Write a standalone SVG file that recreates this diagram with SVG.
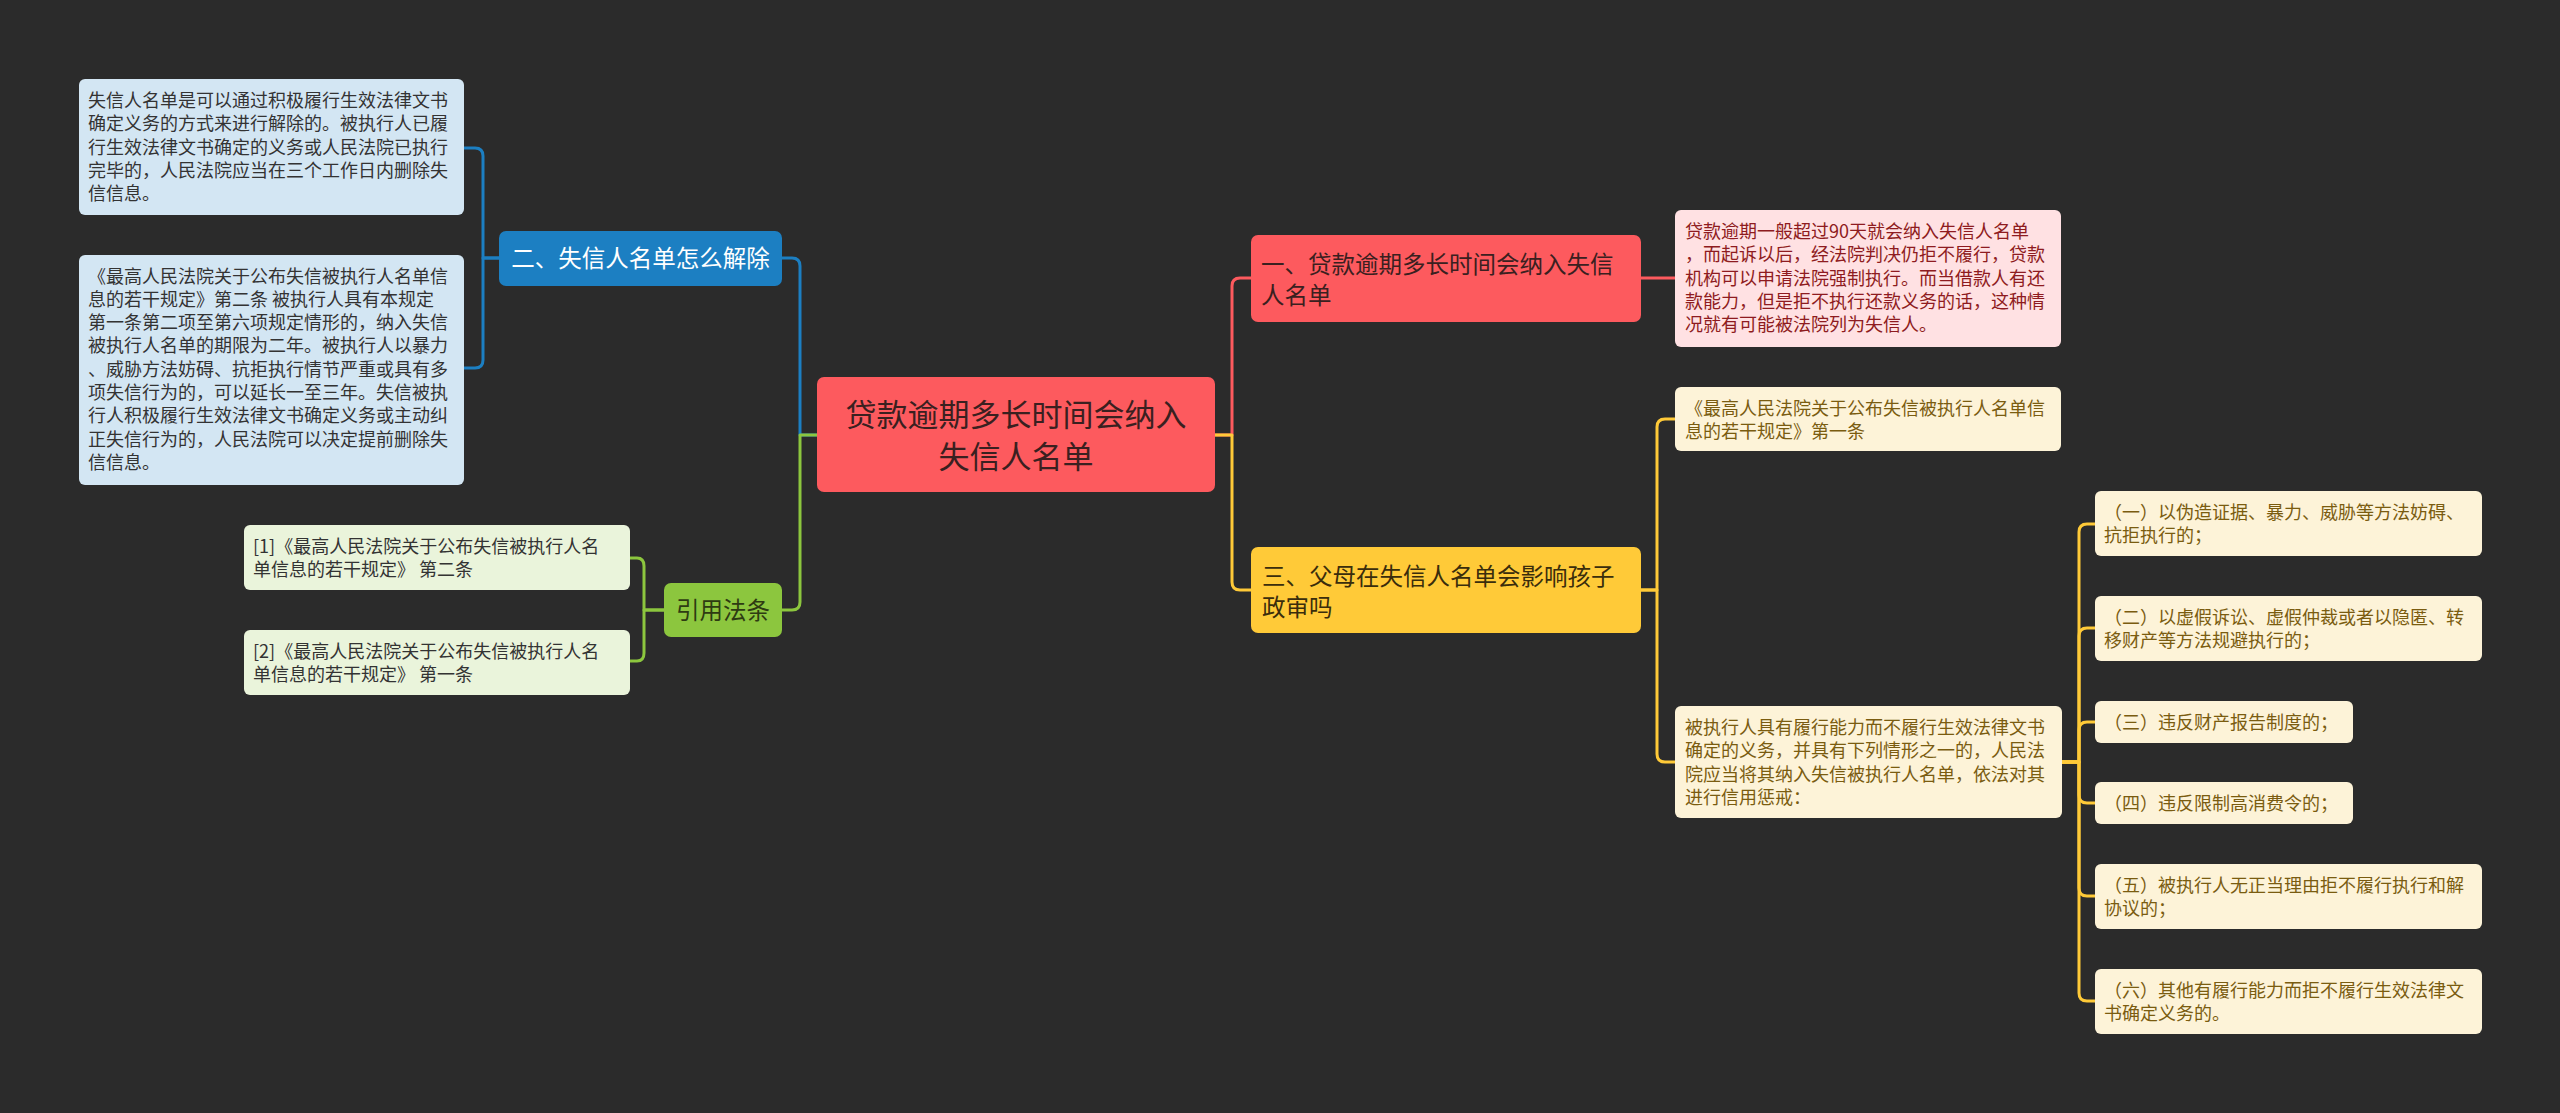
<svg xmlns="http://www.w3.org/2000/svg" width="2560" height="1113" viewBox="0 0 2560 1113">
<style>
text{font-family:"Noto Sans CJK SC","Liberation Sans",sans-serif;dominant-baseline:central}
.conn{fill:none;stroke-width:3;stroke-linecap:round;stroke-linejoin:round}
.cb{stroke:#1C7FC2}.cg{stroke:#8CC63E}.cr{stroke:#FD5A5E}.cy{stroke:#FFCA38}
.s{font-size:18px}
.l1{font-size:23.5px}
.root{font-size:31px;fill:#3a2020}
.bluebox{fill:#D3E6F3}.bluet{fill:#333333}
.greenbox{fill:#EAF4DB}.greent{fill:#333333}
.pinkbox{fill:#FFE1E3}.pinkt{fill:#8E1B20}
.creambox{fill:#FDF3D8}.creamt{fill:#7A5C10}
</style>
<rect x="0" y="0" width="2560" height="1113" fill="#2B2B2B"/>

<g id="connectors">
  <path class="conn cb" d="M817,435 H800 V266 Q800,258 792,258 H782"/>
  <path class="conn cg" d="M817,435 H800 V602 Q800,610 792,610 H782"/>
  <path class="conn cb" d="M499,258 H483 V156 Q483,148 475,148 H464"/>
  <path class="conn cb" d="M499,258 H483 V360 Q483,368 475,368 H464"/>
  <path class="conn cg" d="M664,610 H644 V566 Q644,558 637,558 H630"/>
  <path class="conn cg" d="M664,610 H644 V653 Q644,661 637,661 H630"/>
  <path class="conn cr" d="M1215,435 H1232 V286 Q1232,278 1240,278 H1251"/>
  <path class="conn cy" d="M1215,435 H1232 V582 Q1232,590 1240,590 H1251"/>
  <path class="conn cr" d="M1641,278 H1675"/>
  <path class="conn cy" d="M1641,590 H1657 V427 Q1657,419 1665,419 H1675"/>
  <path class="conn cy" d="M1641,590 H1657 V754 Q1657,762 1665,762 H1675"/>
  <path class="conn cy" d="M2062,762 H2079 V532 Q2079,524 2087,524 H2095"/>
  <path class="conn cy" d="M2062,762 H2079 V636 Q2079,628 2087,628 H2095"/>
  <path class="conn cy" d="M2062,762 H2079 V730 Q2079,722 2087,722 H2095"/>
  <path class="conn cy" d="M2062,762 H2079 V795 Q2079,803 2087,803 H2095"/>
  <path class="conn cy" d="M2062,762 H2079 V888 Q2079,896 2087,896 H2095"/>
  <path class="conn cy" d="M2062,762 H2079 V993 Q2079,1001 2087,1001 H2095"/>
</g>

<g id="root">
  <rect x="817" y="377" width="398" height="115" rx="7" fill="#FD5A5E"/>
  <text class="root" x="1016" y="412" text-anchor="middle">贷款逾期多长时间会纳入</text>
  <text class="root" x="1016" y="454" text-anchor="middle">失信人名单</text>
</g>

<g id="n2">
  <rect x="499" y="231" width="283" height="55" rx="7" fill="#1C7FC2"/>
  <text class="l1" x="640.5" y="257" text-anchor="middle" fill="#FFFFFF">二、失信人名单怎么解除</text>
</g>

<g id="n2a">
  <rect class="bluebox" x="79" y="79" width="385" height="136" rx="6"/>
  <text class="s bluet">
    <tspan x="88" y="99">失信人名单是可以通过积极履行生效法律文书</tspan>
    <tspan x="88" y="122.3">确定义务的方式来进行解除的。被执行人已履</tspan>
    <tspan x="88" y="145.6">行生效法律文书确定的义务或人民法院已执行</tspan>
    <tspan x="88" y="168.9">完毕的，人民法院应当在三个工作日内删除失</tspan>
    <tspan x="88" y="192.2">信信息。</tspan>
  </text>
</g>

<g id="n2b">
  <rect class="bluebox" x="79" y="255" width="385" height="230" rx="6"/>
  <text class="s bluet">
    <tspan x="88" y="274.5">《最高人民法院关于公布失信被执行人名单信</tspan>
    <tspan x="88" y="297.8">息的若干规定》第二条 被执行人具有本规定</tspan>
    <tspan x="88" y="321.1">第一条第二项至第六项规定情形的，纳入失信</tspan>
    <tspan x="88" y="344.4">被执行人名单的期限为二年。被执行人以暴力</tspan>
    <tspan x="88" y="367.7">、威胁方法妨碍、抗拒执行情节严重或具有多</tspan>
    <tspan x="88" y="391">项失信行为的，可以延长一至三年。失信被执</tspan>
    <tspan x="88" y="414.3">行人积极履行生效法律文书确定义务或主动纠</tspan>
    <tspan x="88" y="437.6">正失信行为的，人民法院可以决定提前删除失</tspan>
    <tspan x="88" y="460.9">信信息。</tspan>
  </text>
</g>

<g id="law">
  <rect x="664" y="583" width="118" height="54" rx="7" fill="#8CC63E"/>
  <text class="l1" x="723" y="608.5" text-anchor="middle" fill="#2E3B12">引用法条</text>
</g>

<g id="law1">
  <rect class="greenbox" x="244" y="525" width="386" height="65" rx="6"/>
  <text class="s greent">
    <tspan x="253" y="545">[1]《最高人民法院关于公布失信被执行人名</tspan>
    <tspan x="253" y="568.3">单信息的若干规定》 第二条</tspan>
  </text>
</g>

<g id="law2">
  <rect class="greenbox" x="244" y="630" width="386" height="65" rx="6"/>
  <text class="s greent">
    <tspan x="253" y="650">[2]《最高人民法院关于公布失信被执行人名</tspan>
    <tspan x="253" y="673.3">单信息的若干规定》 第一条</tspan>
  </text>
</g>

<g id="n1">
  <rect x="1251" y="235" width="390" height="87" rx="7" fill="#FD5A5E"/>
  <text class="l1" fill="#3a2020">
    <tspan x="1261" y="262.5">一、贷款逾期多长时间会纳入失信</tspan>
    <tspan x="1261" y="293.5">人名单</tspan>
  </text>
</g>

<g id="n1a">
  <rect class="pinkbox" x="1675" y="210" width="386" height="137" rx="6"/>
  <text class="s pinkt">
    <tspan x="1685" y="230">贷款逾期一般超过90天就会纳入失信人名单</tspan>
    <tspan x="1685" y="253.3">，而起诉以后，经法院判决仍拒不履行，贷款</tspan>
    <tspan x="1685" y="276.6">机构可以申请法院强制执行。而当借款人有还</tspan>
    <tspan x="1685" y="299.9">款能力，但是拒不执行还款义务的话，这种情</tspan>
    <tspan x="1685" y="323.2">况就有可能被法院列为失信人。</tspan>
  </text>
</g>

<g id="n3">
  <rect x="1251" y="547" width="390" height="86" rx="7" fill="#FFCA38"/>
  <text class="l1" fill="#3a2d0c">
    <tspan x="1262" y="574.5">三、父母在失信人名单会影响孩子</tspan>
    <tspan x="1262" y="605.5">政审吗</tspan>
  </text>
</g>

<g id="n3a">
  <rect class="creambox" x="1675" y="387" width="386" height="64" rx="6"/>
  <text class="s creamt">
    <tspan x="1685" y="407">《最高人民法院关于公布失信被执行人名单信</tspan>
    <tspan x="1685" y="429.8">息的若干规定》第一条</tspan>
  </text>
</g>

<g id="n3b">
  <rect class="creambox" x="1675" y="706" width="387" height="112" rx="6"/>
  <text class="s creamt">
    <tspan x="1685" y="726">被执行人具有履行能力而不履行生效法律文书</tspan>
    <tspan x="1685" y="749.3">确定的义务，并具有下列情形之一的，人民法</tspan>
    <tspan x="1685" y="772.6">院应当将其纳入失信被执行人名单，依法对其</tspan>
    <tspan x="1685" y="795.9">进行信用惩戒：</tspan>
  </text>
</g>

<g id="i1">
  <rect class="creambox" x="2095" y="491" width="387" height="65" rx="6"/>
  <text class="s creamt">
    <tspan x="2104" y="511">（一）以伪造证据、暴力、威胁等方法妨碍、</tspan>
    <tspan x="2104" y="534.3">抗拒执行的；</tspan>
  </text>
</g>

<g id="i2">
  <rect class="creambox" x="2095" y="596" width="387" height="65" rx="6"/>
  <text class="s creamt">
    <tspan x="2104" y="616">（二）以虚假诉讼、虚假仲裁或者以隐匿、转</tspan>
    <tspan x="2104" y="639.3">移财产等方法规避执行的；</tspan>
  </text>
</g>

<g id="i3">
  <rect class="creambox" x="2095" y="701" width="258" height="42" rx="6"/>
  <text class="s creamt" x="2104" y="720.5">（三）违反财产报告制度的；</text>
</g>

<g id="i4">
  <rect class="creambox" x="2095" y="782" width="258" height="42" rx="6"/>
  <text class="s creamt" x="2104" y="801.5">（四）违反限制高消费令的；</text>
</g>

<g id="i5">
  <rect class="creambox" x="2095" y="864" width="387" height="65" rx="6"/>
  <text class="s creamt">
    <tspan x="2104" y="884">（五）被执行人无正当理由拒不履行执行和解</tspan>
    <tspan x="2104" y="907.3">协议的；</tspan>
  </text>
</g>

<g id="i6">
  <rect class="creambox" x="2095" y="969" width="387" height="65" rx="6"/>
  <text class="s creamt">
    <tspan x="2104" y="989">（六）其他有履行能力而拒不履行生效法律文</tspan>
    <tspan x="2104" y="1012.3">书确定义务的。</tspan>
  </text>
</g>
</svg>
